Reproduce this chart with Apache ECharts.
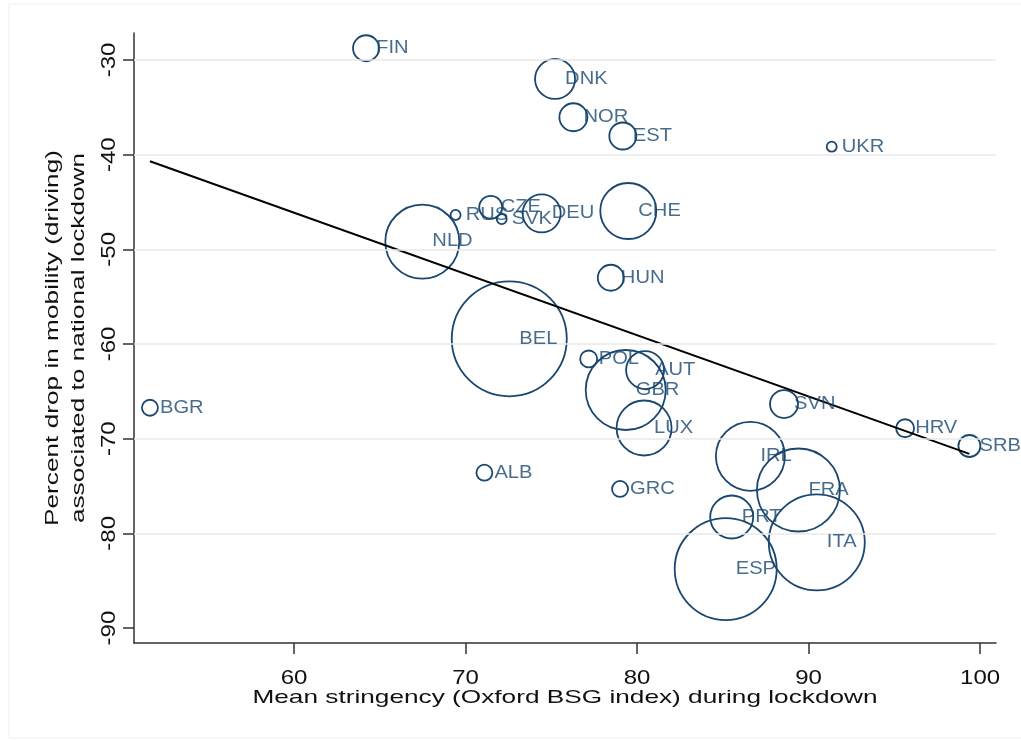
<!DOCTYPE html>
<html>
<head>
<meta charset="utf-8">
<script src="https://cdn.jsdelivr.net/npm/echarts@6/dist/echarts.min.js"></script>
<style>
html,body{margin:0;padding:0;background:#fff;}
#chart{width:1021px;height:740px;}
</style>
</head>
<body>
<div id="chart"></div>
<script>
const countries = ['FIN','DNK','NOR','EST','UKR','RUS','CZE','SVK','DEU','CHE','NLD','HUN','BEL','POL','AUT','GBR','LUX','GRC','SVN','HRV','SRB','IRL','FRA','PRT','ITA','ESP','BGR','ALB'];
const stringency = [64.20,75.22,76.29,79.17,91.35,69.42,71.47,72.11,74.44,79.49,67.48,78.47,72.55,77.18,80.47,79.34,80.41,79.01,88.57,95.63,99.38,86.61,89.41,85.52,90.48,85.17,51.60,71.10];
const mobilityDrop = [-28.76,-32.0,-36.05,-38.03,-39.16,-46.37,-45.56,-46.8,-46.2,-45.95,-49.19,-53.0,-59.45,-61.58,-62.75,-64.86,-68.87,-75.31,-66.34,-68.9,-70.77,-71.86,-75.42,-78.27,-80.95,-83.77,-66.73,-73.59];
const weight = [169,400,196,182,25,25,132,25,361,784,1369,169,3306,72,361,1600,756,64,196,81,121,1190,1722,462,2304,2601,64,64];
const xTicks = [60,70,80,90,100];
const yTicks = [-90,-80,-70,-60,-50,-40,-30];
const yGridValues = [-80,-70,-60,-50,-40,-30];
const fitX = [51.6, 99.38];
const fitY = [-40.7, -71.6];

const FONT = 'Liberation Sans, Arial, sans-serif';
const NAVY = '#1a476f';

// The reference typeface is drawn wider than Arial at the same height:
// widen glyphs horizontally (text stays real text).
(function () {
  const STRETCH = {'17.5': 1.15, '20': 1.2, '19': 1.38};
  const P = CanvasRenderingContext2D.prototype;
  const origFill = P.fillText, origMeasure = P.measureText;
  function k(ctx) {
    const m = /(\d+(?:\.\d+)?)px/.exec(ctx.font || '');
    return m ? (STRETCH[String(parseFloat(m[1]))] || 1) : 1;
  }
  P.fillText = function (t, x, y, mw) {
    const s = k(this);
    if (s === 1) return origFill.apply(this, arguments);
    this.save();
    this.translate(x, y);
    this.scale(s, 1);
    origFill.call(this, t, 0, 0);
    this.restore();
  };
  P.measureText = function (t) {
    const s = k(this);
    const m = origMeasure.call(this, t);
    if (s === 1) return m;
    return {
      width: m.width * s,
      actualBoundingBoxLeft: m.actualBoundingBoxLeft * s,
      actualBoundingBoxRight: m.actualBoundingBoxRight * s,
      actualBoundingBoxAscent: m.actualBoundingBoxAscent,
      actualBoundingBoxDescent: m.actualBoundingBoxDescent,
      fontBoundingBoxAscent: m.fontBoundingBoxAscent,
      fontBoundingBoxDescent: m.fontBoundingBoxDescent
    };
  };
})();

const points = countries.map((c, i) => ({name: c, value: [stringency[i], mobilityDrop[i], weight[i]]}));
const fitData = fitX.map((x, i) => [x, fitY[i]]);

const chart = echarts.init(document.getElementById('chart'), null, {renderer: 'canvas'});
chart.setOption({
  backgroundColor: '#fff',
  animation: false,
  grid: {left: 134, right: 25, top: 33, bottom: 97, containLabel: false},
  graphic: [{
    type: 'rect', silent: true, z: -10,
    shape: {x: 9, y: 4, width: 1030, height: 734},
    style: {fill: 'none', stroke: '#eeeeee', lineWidth: 1}
  }],
  xAxis: {
    type: 'value', min: 50.67, max: 100.93,
    name: 'Mean stringency (Oxford BSG index) during lockdown',
    nameLocation: 'middle', nameGap: 42, nameMoveOverlap: false,
    nameTextStyle: {fontFamily: FONT, fontSize: 19, color: '#111'},
    axisLine: {show: true, onZero: false, lineStyle: {color: '#333', width: 1.5}},
    axisTick: {show: true, length: 11, customValues: xTicks, lineStyle: {color: '#333', width: 1.5}},
    axisLabel: {customValues: xTicks, margin: 23, fontFamily: FONT, fontSize: 20, color: '#111'},
    splitLine: {show: false}
  },
  yAxis: {
    type: 'value', min: -91.58, max: -27.15,
    name: 'Percent drop in mobility (driving)\nassociated to national lockdown',
    nameLocation: 'middle', nameGap: 42, nameMoveOverlap: false,
    nameTextStyle: {fontFamily: FONT, fontSize: 19, color: '#111', lineHeight: 26},
    axisLine: {show: true, onZero: false, lineStyle: {color: '#333', width: 1.5}},
    axisTick: {show: true, length: 11, customValues: yTicks, lineStyle: {color: '#333', width: 1.5}},
    axisLabel: {customValues: yTicks, rotate: 90, margin: 13, fontFamily: FONT, fontSize: 20, color: '#111'},
    splitLine: {show: false}
  },
  series: [
    {
      type: 'line', data: [], z: 0, silent: true,
      markLine: {
        silent: true, symbol: 'none', label: {show: false},
        lineStyle: {color: '#e8e8e8', width: 1.5, type: 'solid'},
        data: yGridValues.map(v => ({yAxis: v}))
      }
    },
    {
      type: 'scatter', data: points, z: 3,
      symbol: 'circle',
      symbolSize: d => 2 * Math.sqrt(d[2]),
      itemStyle: {color: 'rgba(0,0,0,0)', borderColor: NAVY, borderWidth: 1.8, opacity: 1},
      emphasis: {disabled: true}
    },
    {
      type: 'line', data: fitData, z: 4, symbol: 'none',
      lineStyle: {color: '#000', width: 2}
    },
    {
      type: 'scatter', data: points, z: 5,
      symbolSize: 0.1,
      itemStyle: {color: 'rgba(0,0,0,0)'},
      label: {show: true, position: 'right', distance: 10, formatter: p => p.name,
        fontFamily: FONT, fontSize: 17.5, color: NAVY},
      emphasis: {disabled: true}
    }
  ]
});
</script>
</body>
</html>
